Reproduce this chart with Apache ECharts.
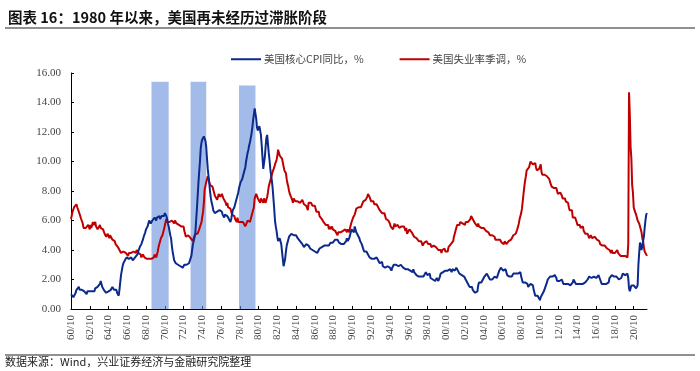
<!DOCTYPE html>
<html>
<head>
<meta charset="utf-8">
<script src="https://cdn.jsdelivr.net/npm/echarts@6/dist/echarts.min.js"></script>
<style>html,body{margin:0;padding:0;background:#fff}#c{width:700px;height:371px}</style>
</head>
<body>
<div id="c"></div>
<script>
// monthly series, first month 1960/10
const startYear = 1960, startMonth = 10;
const seriesNames = ['美国核心CPI同比，%', '美国失业率季调，%'];
const coreCpi = [
1.0,0.9,0.9,
0.8,0.7,0.9,1.1,1.3,1.2,1.3,1.5,1.3,1.3,1.2,1.3,
1.3,1.3,1.2,1.2,1.1,1.0,1.2,1.2,1.3,1.2,1.2,1.1,
1.2,1.3,1.3,1.2,1.4,1.3,1.4,1.5,1.4,1.6,1.7,1.9,
1.7,1.5,1.4,1.3,1.2,1.2,1.1,1.0,1.1,1.2,1.3,1.2,
1.3,1.4,1.5,1.4,1.3,1.4,1.2,1.3,1.1,1.0,0.9,1.3,
1.8,2.3,2.6,2.9,3.1,3.2,3.3,3.4,3.5,3.4,3.5,3.4,
3.3,3.4,3.5,3.4,3.3,3.4,3.3,3.5,3.4,3.6,3.7,3.9,
4.0,4.2,4.3,4.4,4.5,4.7,4.9,5.0,5.2,5.4,5.4,5.6,
5.8,6.0,5.9,5.8,5.9,6.0,6.1,6.0,6.2,6.1,6.0,6.2,
6.1,6.2,6.3,6.1,6.2,6.3,6.2,6.4,6.3,6.5,6.6,6.3,
6.1,5.8,5.6,5.3,5.0,4.8,4.3,3.9,3.6,3.3,3.2,3.1,
3.1,3.2,3.0,3.1,3.0,2.9,3.0,2.9,2.8,2.9,3.0,3.0,
3.0,3.0,3.1,3.0,3.1,3.1,3.2,3.6,4.0,4.4,4.6,4.7,
5.1,5.9,6.7,7.6,8.5,9.3,10.0,10.9,11.3,11.5,11.6,11.7,
11.6,11.4,11.0,10.2,9.5,9.0,8.5,7.9,7.5,7.2,7.0,6.7,
6.6,6.5,6.4,6.5,6.6,6.6,6.7,6.7,6.8,6.8,6.6,6.4,
6.3,6.2,6.4,6.3,6.4,6.3,6.2,6.1,6.0,5.9,6.1,6.4,
6.7,6.8,6.9,7.1,7.3,7.4,7.7,7.9,8.2,8.4,8.6,8.7,
8.8,9.0,9.2,9.4,9.6,10.0,10.3,10.6,10.8,11.1,11.3,11.6,
11.9,12.3,12.8,13.2,13.6,13.5,12.9,12.3,12.1,12.2,12.4,12.3,
11.8,11.1,10.3,9.5,9.9,10.3,11.0,11.6,11.8,11.2,10.6,10.1,
9.5,9.1,8.7,8.2,7.5,6.8,6.0,5.6,5.3,4.9,4.6,4.5,
4.8,4.7,4.4,3.9,3.4,2.9,3.0,3.4,3.9,4.3,4.5,4.7,
4.9,5.0,5.0,5.1,5.1,5.1,5.0,5.0,5.1,5.0,4.9,4.8,
4.7,4.7,4.6,4.5,4.5,4.4,4.3,4.2,4.2,4.3,4.4,4.4,
4.4,4.3,4.2,4.1,4.0,4.0,4.0,4.0,3.9,3.9,3.8,3.8,
3.8,3.8,3.9,4.1,4.2,4.2,4.2,4.1,4.3,4.3,4.3,4.2,
4.3,4.3,4.4,4.3,4.4,4.5,4.5,4.4,4.5,4.4,4.5,4.7,
4.6,4.8,4.7,4.6,4.5,4.5,4.6,4.4,4.3,4.3,4.4,4.4,
4.4,4.6,4.8,4.6,4.7,4.8,5.0,5.2,5.4,5.3,5.3,5.2,
5.6,5.5,5.2,5.1,5.0,4.9,4.8,4.6,4.5,4.4,4.4,4.4,
3.9,3.8,3.9,3.9,3.8,3.7,3.6,3.5,3.4,3.4,3.4,3.3,
3.3,3.4,3.5,3.5,3.5,3.4,3.3,3.2,3.1,3.1,3.1,3.2,
2.9,2.9,2.9,2.8,2.8,2.9,2.9,2.9,2.9,2.8,2.8,2.6,
2.8,2.9,3.0,3.0,3.1,3.0,3.0,2.9,2.9,3.0,3.0,3.0,
3.0,2.9,2.8,2.7,2.7,2.7,2.7,2.6,2.7,2.6,2.6,2.6,
2.5,2.5,2.5,2.7,2.5,2.4,2.4,2.3,2.2,2.3,2.2,2.2,
2.2,2.2,2.1,2.1,2.2,2.2,2.2,2.5,2.5,2.3,2.3,2.4,
2.4,2.1,2.1,2.2,2.0,2.1,2.1,1.9,2.0,2.1,2.1,1.9,
2.0,2.2,2.4,2.3,2.4,2.5,2.5,2.6,2.6,2.5,2.6,2.6,
2.6,2.7,2.7,2.6,2.5,2.7,2.7,2.7,2.6,2.6,2.8,2.7,
2.6,2.6,2.4,2.5,2.5,2.3,2.2,2.4,2.2,2.2,2.0,1.9,
1.9,1.7,1.7,1.5,1.6,1.5,1.5,1.3,1.2,1.3,1.1,1.1,
1.1,1.2,1.6,1.8,1.7,1.9,1.8,1.7,2.0,2.0,2.2,2.2,
2.3,2.4,2.3,2.2,2.2,2.0,2.1,2.1,2.0,2.1,2.1,2.2,
2.1,2.1,2.1,2.3,2.4,2.6,2.7,2.8,2.9,2.7,2.6,2.6,
2.7,2.7,2.5,2.3,2.2,2.2,2.2,2.1,2.1,2.2,2.3,2.4,
2.5,2.3,2.4,2.3,2.3,2.4,2.5,2.5,2.5,2.2,2.0,1.8,
1.7,1.8,1.8,1.9,1.8,1.7,1.5,1.4,1.5,1.7,1.7,1.8,
1.6,1.3,1.1,0.9,0.9,0.9,0.9,0.9,0.8,0.6,0.8,0.8,
1.0,1.1,1.2,1.3,1.5,1.6,1.8,2.0,2.0,2.1,2.2,2.2,
2.3,2.2,2.3,2.3,2.3,2.2,2.1,1.9,2.0,2.0,1.9,1.9,
1.9,2.0,1.9,1.7,1.7,1.6,1.7,1.8,1.7,1.7,1.7,1.7,
1.6,1.6,1.7,1.8,2.0,1.9,1.9,1.7,1.7,1.8,1.7,1.6,
1.6,1.7,1.8,1.8,1.7,1.8,1.8,1.8,1.9,1.9,2.0,2.1,
2.2,2.3,2.2,2.1,2.2,2.2,2.2,2.3,2.2,2.1,2.1,2.2,
2.3,2.2,2.0,1.9,1.7,1.7,1.7,1.7,1.7,1.8,1.7,1.8,
1.8,1.8,2.1,2.1,2.2,2.3,2.4,2.2,2.2,2.1,2.2,2.2,
2.2,2.1,2.0,2.1,2.0,2.1,2.2,2.4,2.4,2.3,2.3,2.3,
2.3,2.4,2.1,1.4,1.2,1.2,1.6,1.7,1.7,1.6,1.6,1.6,
1.4,1.3,1.6,3.0,3.8,4.5,4.3,4.0,4.0,4.6,4.9,5.5,
6.0,6.4,6.5
];
const unemployment = [
6.1,6.1,6.6,
6.6,6.9,6.9,7.0,7.1,6.9,7.0,6.6,6.7,6.5,6.1,6.0,
5.8,5.5,5.6,5.6,5.5,5.5,5.4,5.7,5.6,5.4,5.7,5.5,
5.7,5.9,5.7,5.7,5.9,5.6,5.6,5.4,5.5,5.5,5.7,5.5,
5.6,5.4,5.4,5.3,5.1,5.2,4.9,5.0,5.1,5.1,4.8,5.0,
4.9,5.1,4.7,4.8,4.6,4.6,4.4,4.4,4.3,4.2,4.1,4.0,
4.0,3.8,3.8,3.8,3.9,3.8,3.8,3.8,3.7,3.7,3.6,3.8,
3.9,3.8,3.8,3.8,3.8,3.9,3.8,3.8,3.8,4.0,3.9,3.8,
3.7,3.8,3.7,3.5,3.5,3.7,3.7,3.5,3.4,3.4,3.4,3.4,
3.4,3.4,3.4,3.4,3.4,3.5,3.5,3.5,3.7,3.7,3.5,3.5,
3.9,4.2,4.4,4.6,4.8,4.9,5.0,5.1,5.4,5.5,5.9,6.1,
5.9,5.9,6.0,5.9,5.9,5.9,6.0,6.1,6.0,5.8,6.0,6.0,
5.8,5.7,5.8,5.7,5.7,5.7,5.6,5.6,5.5,5.6,5.3,5.2,
4.9,5.0,4.9,5.0,4.9,4.9,4.8,4.8,4.8,4.6,4.8,4.9,
5.1,5.2,5.1,5.1,5.1,5.4,5.5,5.5,5.9,6.0,6.6,7.2,
8.1,8.1,8.6,8.8,9.0,8.8,8.6,8.4,8.4,8.4,8.3,8.2,
7.9,7.7,7.6,7.7,7.4,7.6,7.8,7.8,7.6,7.7,7.8,7.8,
7.5,7.6,7.4,7.2,7.0,7.2,6.9,7.0,6.8,6.8,6.8,6.4,
6.4,6.3,6.3,6.1,6.0,5.9,6.2,5.9,6.0,5.8,5.9,6.0,
5.9,5.9,5.8,5.8,5.6,5.7,5.7,6.0,5.9,6.0,5.9,6.0,
6.3,6.3,6.3,6.9,7.5,7.6,7.8,7.7,7.5,7.5,7.5,7.2,
7.5,7.4,7.4,7.2,7.5,7.5,7.2,7.4,7.6,7.9,8.3,8.5,
8.6,8.9,9.0,9.3,9.4,9.6,9.8,9.8,10.1,10.4,10.8,10.8,
10.4,10.4,10.3,10.2,10.1,10.1,9.4,9.5,9.2,8.8,8.5,8.3,
8.0,7.8,7.8,7.7,7.4,7.2,7.5,7.5,7.3,7.4,7.2,7.3,
7.3,7.2,7.2,7.3,7.2,7.4,7.4,7.1,7.1,7.1,7.0,7.0,
6.7,7.2,7.2,7.1,7.2,7.2,7.0,6.9,7.0,7.0,6.9,6.6,
6.6,6.6,6.6,6.3,6.3,6.2,6.1,6.0,5.9,6.0,5.8,5.7,
5.7,5.7,5.7,5.4,5.6,5.4,5.4,5.6,5.4,5.4,5.3,5.3,
5.4,5.2,5.0,5.2,5.2,5.3,5.2,5.2,5.3,5.3,5.4,5.4,
5.4,5.3,5.2,5.4,5.4,5.2,5.5,5.7,5.9,5.9,6.2,6.3,
6.4,6.6,6.8,6.7,6.9,6.9,6.8,6.9,6.9,7.0,7.0,7.3,
7.3,7.4,7.4,7.4,7.6,7.8,7.7,7.6,7.6,7.3,7.4,7.4,
7.3,7.1,7.0,7.1,7.1,7.0,6.9,6.8,6.7,6.8,6.6,6.5,
6.6,6.6,6.5,6.4,6.1,6.1,6.1,6.0,5.9,5.8,5.6,5.5,
5.6,5.4,5.4,5.8,5.6,5.6,5.7,5.7,5.6,5.5,5.6,5.6,
5.6,5.5,5.5,5.6,5.6,5.3,5.5,5.1,5.2,5.2,5.4,5.4,
5.3,5.2,5.2,5.1,4.9,5.0,4.9,4.8,4.9,4.7,4.6,4.7,
4.6,4.6,4.7,4.3,4.4,4.5,4.5,4.5,4.6,4.5,4.4,4.4,
4.3,4.4,4.2,4.3,4.2,4.3,4.3,4.2,4.2,4.1,4.1,4.0,
4.0,4.1,4.0,3.8,4.0,4.0,4.0,4.1,3.9,3.9,3.9,3.9,
4.2,4.2,4.3,4.4,4.3,4.5,4.6,4.9,5.0,5.3,5.5,5.7,
5.7,5.7,5.7,5.9,5.8,5.8,5.8,5.7,5.7,5.7,5.9,6.0,
5.8,5.9,5.9,6.0,6.1,6.3,6.2,6.1,6.1,6.0,5.8,5.7,
5.7,5.6,5.8,5.6,5.6,5.6,5.5,5.4,5.4,5.5,5.4,5.4,
5.3,5.4,5.2,5.2,5.1,5.0,5.0,4.9,5.0,5.0,5.0,4.9,
4.7,4.8,4.7,4.7,4.6,4.6,4.7,4.7,4.5,4.4,4.5,4.4,
4.6,4.5,4.4,4.5,4.4,4.6,4.7,4.6,4.7,4.7,4.7,5.0,
5.0,4.9,5.1,5.0,5.4,5.6,5.8,6.1,6.1,6.5,6.8,7.3,
7.8,8.3,8.7,9.0,9.4,9.5,9.5,9.6,9.8,10.0,9.9,9.9,
9.8,9.8,9.9,9.9,9.6,9.4,9.4,9.5,9.5,9.4,9.8,9.3,
9.1,9.0,9.0,9.1,9.0,9.1,9.0,9.0,9.0,8.8,8.6,8.5,
8.3,8.3,8.2,8.2,8.2,8.2,8.2,8.1,7.8,7.8,7.7,7.9,
8.0,7.7,7.5,7.6,7.5,7.5,7.3,7.2,7.2,7.2,6.9,6.7,
6.6,6.7,6.7,6.2,6.3,6.1,6.2,6.1,5.9,5.7,5.8,5.6,
5.7,5.5,5.4,5.4,5.6,5.3,5.2,5.1,5.0,5.0,5.1,5.0,
4.8,4.9,5.0,5.1,4.8,4.9,4.8,4.9,5.0,4.9,4.7,4.7,
4.7,4.6,4.4,4.4,4.4,4.3,4.3,4.4,4.3,4.2,4.2,4.1,
4.0,4.1,4.0,4.0,3.8,4.0,3.8,3.8,3.7,3.8,3.8,3.9,
4.0,3.8,3.8,3.7,3.6,3.6,3.7,3.6,3.5,3.6,3.6,3.6,
3.5,3.5,4.4,14.7,13.2,11.0,10.2,8.4,7.9,6.9,6.7,6.7,
6.4,6.2,6.0,6.1,5.8,5.9,5.4,5.2,4.8,4.6,4.2,3.9,
4.0,3.8,3.6
];
// shaded stagflation periods: [start month, end month, height]
const bandStart = ['69/05', '73/07', '78/09'];
const bandEnd = ['71/03', '75/03', '80/06'];
const bandTop = [15.4, 15.4, 15.15];

const categories = [];
for (let i = 0; i < coreCpi.length; i++) {
  const t = (startYear * 12 + startMonth - 1) + i;
  const y = Math.floor(t / 12) % 100, m = t % 12 + 1;
  categories.push(String(y).padStart(2, '0') + '/' + String(m).padStart(2, '0'));
}

const chart = echarts.init(document.getElementById('c'), null, {renderer: 'canvas'});
const serif = '"Liberation Serif","DejaVu Serif",serif';
const cjk = '"Noto Sans CJK SC","Noto Sans",sans-serif';
chart.setOption({
  animation: false,
  title: {
    text: '图表 16：1980 年以来，美国再未经历过滞胀阶段',
    left: 3, top: 5,
    textStyle: {fontSize: 14.5, fontWeight: 'bold', color: '#111', fontFamily: cjk}
  },
  graphic: [
    {type: 'line', shape: {x1: 5, y1: 28, x2: 695, y2: 28}, style: {stroke: '#222', lineWidth: 1.2}},
    {type: 'line', shape: {x1: 5, y1: 355, x2: 695, y2: 355}, style: {stroke: '#222', lineWidth: 1.2}},
    {type: 'text', left: 5, top: 356, style: {text: '数据来源：Wind，兴业证券经济与金融研究院整理', font: '11px ' + cjk, fill: '#222'}}
  ],
  legend: {
    data: seriesNames,
    left: 226, top: 49,
    icon: 'rect', itemWidth: 30, itemHeight: 2, itemGap: 36,
    textStyle: {fontSize: 10.5, color: '#444', fontFamily: cjk, padding: [0, 0, 0, -2]}
  },
  grid: {left: 71, right: 53, top: 73, bottom: 62, containLabel: false},
  xAxis: {
    type: 'category', boundaryGap: false, data: categories,
    axisLine: {lineStyle: {color: '#000', width: 1}},
    axisTick: {inside: true, length: 3, interval: 23, lineStyle: {color: '#000'}},
    axisLabel: {interval: 23, rotate: 90, fontSize: 11, fontFamily: serif, color: '#444', margin: 6},
    splitLine: {show: false}
  },
  yAxis: {
    type: 'value', min: 0, max: 16, interval: 2,
    axisLine: {show: true, lineStyle: {color: '#000', width: 1}},
    axisTick: {show: true, inside: true, length: 3, lineStyle: {color: '#000'}},
    axisLabel: {fontSize: 11, fontFamily: serif, color: '#444', margin: 10, formatter: v => v.toFixed(2)},
    splitLine: {show: false}
  },
  series: [
    {name: seriesNames[0], type: 'line', data: coreCpi, showSymbol: false, symbol: 'none',
     lineStyle: {color: '#0b2a8c', width: 2}, itemStyle: {color: '#0b2a8c'}, z: 3},
    {name: seriesNames[1], type: 'line', data: unemployment, showSymbol: false, symbol: 'none',
     lineStyle: {color: '#c00000', width: 2}, itemStyle: {color: '#c00000'}, z: 2},
    {name: 'bands', type: 'line', data: [], z: 10, silent: true,
     markArea: {silent: true, itemStyle: {color: '#668ed9', opacity: 0.6},
       data: bandStart.map((s, i) => [{xAxis: s, yAxis: 0}, {xAxis: bandEnd[i], yAxis: bandTop[i]}])}}
  ]
});
</script>
</body>
</html>
